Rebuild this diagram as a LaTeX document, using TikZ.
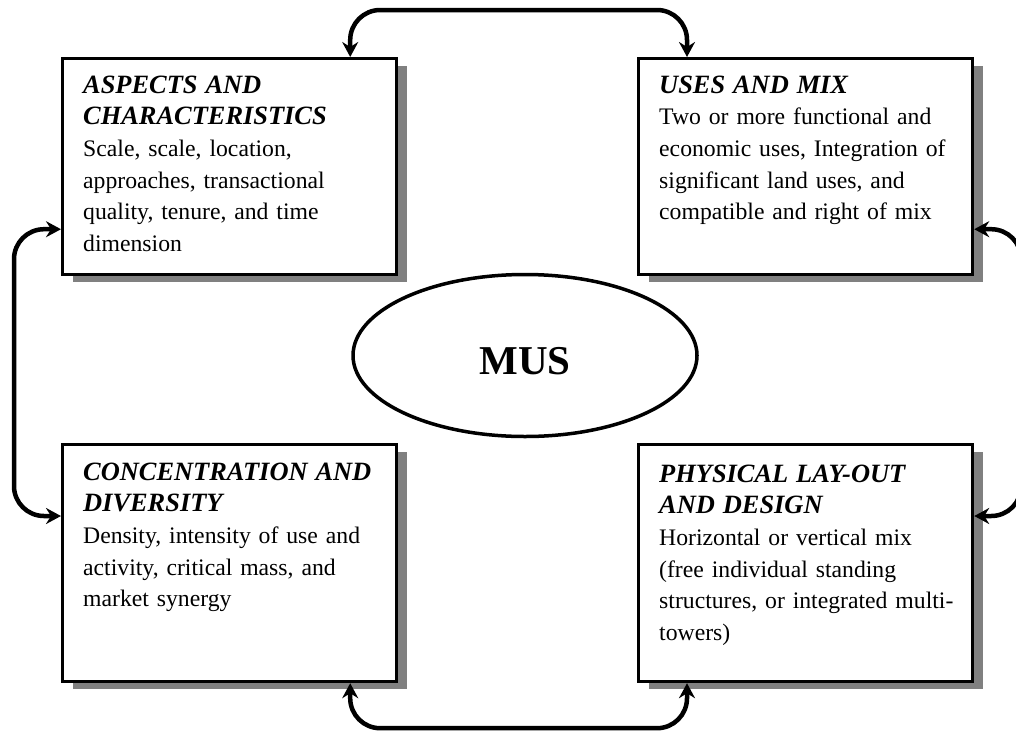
\documentclass[tikz,border=0pt]{standalone}
\usepackage{fontspec}
\setmainfont{Liberation Serif}
\usetikzlibrary{arrows.meta,positioning,calc,shadows,shapes.geometric}
\tikzset{
  box/.style={draw, line width=3.2pt, minimum width=334pt, anchor=north west, fill=white,
    drop shadow={shadow xshift=10pt, shadow yshift=-7pt, fill=black!50, opacity=1}},
  txt/.style={anchor=base west, inner sep=0pt, align=left, text width=310pt, font=\fontsize{23.7}{31.7}\selectfont},
  link/.style={{Stealth[length=15pt,width=16pt,inset=5pt]}-{Stealth[length=15pt,width=16pt,inset=5pt]}, line width=4.5pt, rounded corners=30pt},
  hub/.style={draw, ellipse, line width=3.5pt, minimum width=344pt, minimum height=162pt, text height=38pt, text depth=0pt, font=\fontsize{41}{41}\selectfont\bfseries},
}
\newcommand{\boxhead}[1]{{\fontsize{26.4}{31.7}\selectfont\bfseries\itshape #1}}
\begin{document}
\begin{tikzpicture}[x=1pt, y=-1pt]
\useasboundingbox (0,0) rectangle (1016,731);
% the four boxes
\node[box, minimum height=216pt] (asp) at (61,57) {};
\node[box, minimum height=216pt] (use) at (637,57) {};
\node[box, minimum height=237pt] (con) at (61,443) {};
\node[box, minimum height=237pt] (phy) at (637,443) {};
\node[txt] (aspt) at ($(asp.north west)+(22,36)$) {\boxhead{ASPECTS AND\\CHARACTERISTICS}\\Scale, scale, location,\\approaches, transactional\\quality, tenure, and time\\dimension};
\node[txt] (uset) at ($(use.north west)+(22,36)$) {\boxhead{USES AND MIX}\\Two or more functional and\\economic uses, Integration of\\significant land uses, and\\compatible and right of mix};
\node[txt] (cont) at ($(con.north west)+(22,37)$) {\boxhead{CONCENTRATION AND\\DIVERSITY}\\Density, intensity of use and\\activity, critical mass, and\\market synergy};
\node[txt] (phyt) at ($(phy.north west)+(22,39)$) {\boxhead{PHYSICAL LAY-OUT\\AND DESIGN}\\Horizontal or vertical mix\\(free individual standing\\structures, or integrated multi-\\towers)};
% centre
\node[hub] (mus) at (525,355.5) {MUS};
% links
\draw[link] ([xshift=-48pt]asp.north east) -- ++(0,-47) -| ([xshift=50pt]use.north west);
\draw[link] ([xshift=-48pt]con.south east) -- ++(0,45) -| ([xshift=50pt]phy.south west);
\draw[link] ([yshift=47pt]asp.south west) -- ++(-47,0) |- ([yshift=-73pt]con.north west);
\draw[link] ([yshift=47pt]use.south east) -- ++(47,0) |- ([yshift=-73pt]phy.north east);
\end{tikzpicture}
\end{document}
